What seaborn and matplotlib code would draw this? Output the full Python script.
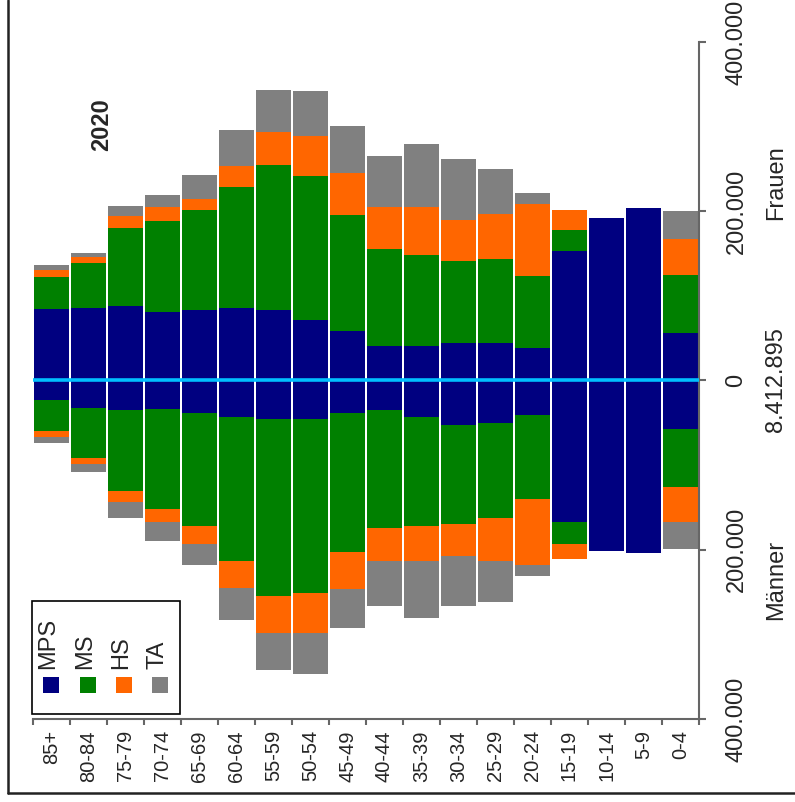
import numpy as np
import seaborn as sns
import matplotlib.pyplot as plt
from matplotlib.patches import Rectangle
from matplotlib.lines import Line2D

# Altersgruppen (links alt, rechts jung)
ages = ['85+', '80-84', '75-79', '70-74', '65-69', '60-64', '55-59', '50-54', '45-49',
        '40-44', '35-39', '30-34', '25-29', '20-24', '15-19', '10-14', '5-9', '0-4']

# Frauen, in Tausend
f_mps = [84, 86, 88, 81, 83, 86, 83, 72, 58, 41, 41, 44, 44, 38, 153, 192, 204, 56]
f_ms = [38, 53, 92, 108, 118, 143, 172, 170, 138, 114, 107, 97, 99, 86, 25, 0, 0, 69]
f_hs = [9, 7, 14.5, 16, 13, 25, 39, 47, 49, 50, 57, 49, 54, 85, 24, 0, 0, 42]
f_ta = [5, 5, 11.5, 14, 29, 42, 49, 53, 56, 60, 75, 72, 53, 12, 0, 0, 0, 33]

# Männer, in Tausend
m_mps = [22.5, 32, 34.3, 33.1, 37.9, 42.6, 45, 45, 37.9, 34.3, 42.6, 52.1, 49.7, 40.2, 166.9, 202, 204.4, 56.8]
m_ms = [36.7, 59.1, 95.9, 118.4, 133.7, 170.4, 209.4, 205.9, 164.5, 139.7, 129, 117.1, 113.3, 99.4, 26, 0, 0, 68.6]
m_hs = [7.1, 7.1, 13.8, 15.4, 21.3, 32, 43.4, 46.9, 43.8, 39, 41.4, 38.7, 50, 78.2, 18.5, 0, 0, 41.5]
m_ta = [7.1, 9.5, 19, 23.3, 25.6, 37.5, 43.8, 48.6, 45.7, 52.9, 67.1, 58, 48.2, 13.8, 0, 0, 0, 32.8]

groups = ['MPS', 'MS', 'HS', 'TA']
colors = ['#000080', '#008000', '#FF6600', '#808080']
value_ticks = [-400, -200, 0, 200, 400]
value_labels = ['400.000', '200.000', '0', '200.000', '400.000']

sns.set_theme(style='white')
plt.rcParams['font.family'] = ['Liberation Sans', 'DejaVu Sans']

W, H = 795, 802
fig = plt.figure(figsize=(W / 100, H / 100), dpi=100)
ax = fig.add_axes([33 / W, 1 - 719 / H, (699 - 33) / W, (719 - 42) / H])


def fx(x):
    return x / W


def fy(y):
    return 1 - y / H


# gestapelte Balken: kumulierte Summen, größte zuerst zeichnen
for sign, parts in [(1, [f_mps, f_ms, f_hs, f_ta]), (-1, [m_mps, m_ms, m_hs, m_ta])]:
    cum = np.cumsum(np.array(parts, dtype=float), axis=0) * sign
    for i in range(len(groups) - 1, -1, -1):
        sns.barplot(x=ages, y=cum[i], order=ages, color=colors[i], width=0.92,
                    saturation=1, errorbar=None, linewidth=0, ax=ax)

ax.axhline(0, color='#00BFFF', lw=2.6, zorder=5)

ax.set_xlim(-0.5, len(ages) - 0.5)
ax.set_ylim(-400, 400)
ax.set_xlabel('')
ax.set_ylabel('')

# Achsen
for s in ['left', 'top']:
    ax.spines[s].set_visible(False)
for s in ['right', 'bottom']:
    ax.spines[s].set_color('#666666')
    ax.spines[s].set_linewidth(1.5)

ax.yaxis.tick_right()
ax.set_yticks(value_ticks)
ax.set_yticklabels(value_labels, rotation=90, va='center', ha='left', fontsize=17)
ax.tick_params(axis='y', which='major', right=True, direction='out', length=5,
               width=1.5, color='#666666', pad=14)

ax.set_xticks(range(len(ages)))
ax.set_xticklabels(ages, rotation=90, ha='center', va='top', fontsize=14.5)
ax.set_xticks(np.arange(-0.5, len(ages)), minor=True)
ax.tick_params(axis='x', which='major', bottom=True, length=0, pad=8)
ax.tick_params(axis='x', which='minor', bottom=True, direction='out', length=4,
               width=1.5, color='#666666')

# Beschriftungen
fig.text(fx(102), fy(125), '2020', rotation=90, ha='center', va='center',
         fontsize=17, fontweight='bold')
fig.text(fx(776), fy(183), 'Frauen', rotation=90, ha='center', va='center', fontsize=17)
fig.text(fx(776), fy(380), '8.412.895', rotation=90, ha='center', va='center', fontsize=17)
fig.text(fx(776), fy(580), 'Männer', rotation=90, ha='center', va='center', fontsize=17)

# Legende (gedreht, von Hand)
fig.add_artist(Rectangle((fx(32), fy(714)), fx(180) - fx(32), fy(601) - fy(714),
                         transform=fig.transFigure, fill=False, ec='black', lw=1.2))
for i, (g, c) in enumerate(zip(groups, colors)):
    x = [48, 85, 121, 157][i]
    fig.text(fx(x), fy(669), g, rotation=90, ha='center', va='bottom', fontsize=17)
    fig.add_artist(Rectangle((fx(x + 3 - 8), fy(693)), 16 / W, 16 / H,
                             transform=fig.transFigure, color=c, lw=0))

# äußerer Rahmen
fig.add_artist(Line2D([fx(8), fx(8)], [fy(793), 1], transform=fig.transFigure,
                      color='#222222', lw=1.8))
fig.add_artist(Line2D([fx(8), 1], [fy(793), fy(793)], transform=fig.transFigure,
                      color='#222222', lw=1.8))

fig.savefig('out.png', dpi=100)
